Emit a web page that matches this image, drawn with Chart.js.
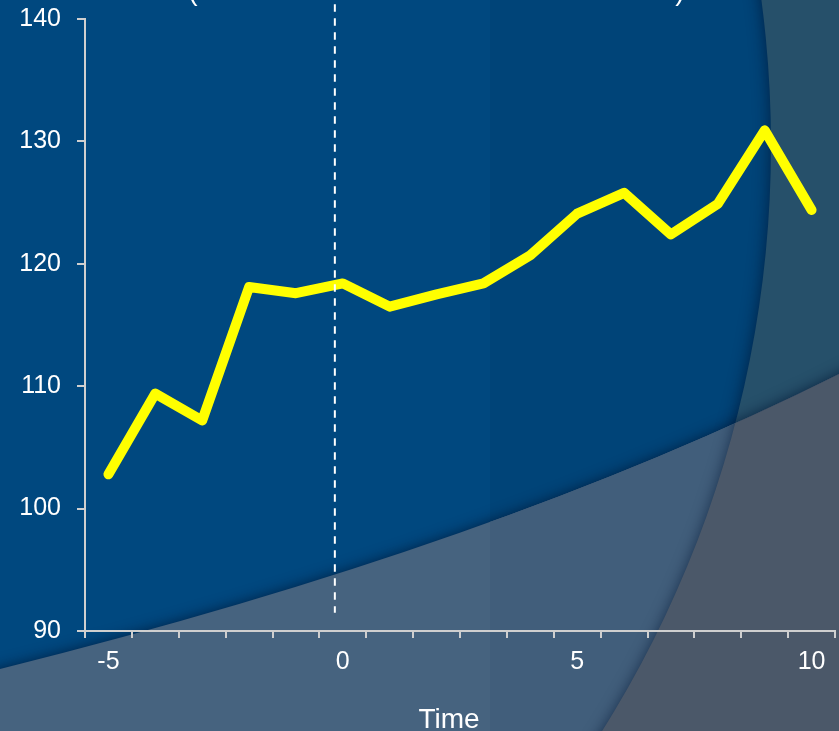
<!DOCTYPE html>
<html>
<head>
<meta charset="utf-8">
<script src="https://cdn.jsdelivr.net/npm/chart.js@4/dist/chart.umd.min.js"></script>
<style>
  html, body { margin: 0; padding: 0; background: #00487F; }
  canvas { display: block; }
</style>
</head>
<body>
<canvas id="chart" width="839" height="731"></canvas>
<script>
// Time points (categories) and the measured series
const timePoints = [-5, -4, -3, -2, -1, 0, 1, 2, 3, 4, 5, 6, 7, 8, 9, 10];
const seriesValues = [102.8, 109.4, 107.2, 118.1, 117.6, 118.4, 116.5, 117.5, 118.4, 120.7, 124.1, 125.8, 122.4, 124.9, 130.9, 124.4];
const labelledTimes = [-5, 0, 5, 10];
const yRange = [90, 140];
const yStep = 10;
const xAxisTitle = 'Time';
// Vertical reference line: time position and vertical extent (value units)
const referenceTime = -0.17;
const referenceSpan = [91.5, 141.2];

const FONT = "'Liberation Sans', Arial, sans-serif";
const AXIS_COLOR = '#CFCFCF';

// Decorative slide background: blue field, a large arc on the right and a swept band below
const backgroundPlugin = {
  id: 'slideBackground',
  beforeDraw(chart) {
    const ctx = chart.ctx;
    const W = chart.width, H = chart.height;
    const arc = { cx: -330, cy: 145, r: 1101 };
    const bandPath = () => {
      ctx.beginPath();
      ctx.moveTo(-20, 674);
      ctx.quadraticCurveTo(505, 545, W + 20, 364);
      ctx.lineTo(W + 20, H + 40);
      ctx.lineTo(-20, H + 40);
      ctx.closePath();
    };
    const outsideArcPath = () => {
      ctx.beginPath();
      ctx.rect(-40, -40, W + 80, H + 80);
      ctx.moveTo(arc.cx + arc.r, arc.cy);
      ctx.arc(arc.cx, arc.cy, arc.r, 0, Math.PI * 2, true);
      ctx.closePath();
    };
    ctx.save();
    // base blue with a faint vertical step
    ctx.fillStyle = '#00487F';
    ctx.fillRect(0, 0, W, H);
    ctx.fillStyle = '#004478';
    ctx.fillRect(490, 0, W - 490, H);

    // region right of the arc
    ctx.save();
    ctx.shadowColor = 'rgba(0, 20, 50, 0.75)';
    ctx.shadowBlur = 16;
    ctx.fillStyle = '#26506A';
    outsideArcPath();
    ctx.fill('evenodd');
    ctx.restore();

    // lower swept band
    ctx.save();
    ctx.shadowColor = 'rgba(0, 20, 50, 0.75)';
    ctx.shadowBlur = 14;
    ctx.fillStyle = '#46637F';
    bandPath();
    ctx.fill();
    ctx.restore();

    ctx.save();
    bandPath();
    ctx.clip();
    ctx.fillStyle = '#415E7B';
    ctx.fillRect(490, 0, W - 490, H);
    ctx.shadowColor = 'rgba(0, 20, 50, 0.6)';
    ctx.shadowBlur = 14;
    ctx.fillStyle = '#4B5869';
    outsideArcPath();
    ctx.fill('evenodd');
    ctx.restore();

    // title line running off the top edge
    ctx.fillStyle = '#FFFFFF';
    ctx.font = '28px ' + FONT;
    ctx.textAlign = 'center';
    ctx.textBaseline = 'alphabetic';
    ctx.fillText('(', 193, 0);
    ctx.fillText(')', 680, 0);
    ctx.restore();
  }
};

// Dashed vertical marker drawn over the series, plus the x-axis caption
const referenceLinePlugin = {
  id: 'referenceLine',
  afterDatasetsDraw(chart) {
    const { ctx, scales: { x, y } } = chart;
    const px = x.getPixelForValue(referenceTime - timePoints[0]);
    ctx.save();
    ctx.strokeStyle = '#FFFFFF';
    ctx.lineWidth = 2;
    ctx.setLineDash([7.5, 6.5]);
    ctx.beginPath();
    ctx.moveTo(px, y.getPixelForValue(referenceSpan[1]));
    ctx.lineTo(px, y.getPixelForValue(referenceSpan[0]));
    ctx.stroke();
    ctx.restore();
  },
  afterDraw(chart) {
    const { ctx, scales: { x } } = chart;
    ctx.save();
    ctx.fillStyle = '#FFFFFF';
    ctx.font = '28px ' + FONT;
    ctx.textAlign = 'center';
    ctx.textBaseline = 'alphabetic';
    ctx.fillText(xAxisTitle, (x.left + x.right) / 2 - 11, x.bottom - 3);
    ctx.restore();
  }
};

new Chart(document.getElementById('chart'), {
  type: 'line',
  data: {
    labels: timePoints.map(String),
    datasets: [{
      data: seriesValues,
      borderColor: '#FFFF00',
      borderWidth: 10,
      borderCapStyle: 'round',
      borderJoinStyle: 'round',
      pointRadius: 0,
      tension: 0,
      fill: false
    }]
  },
  options: {
    responsive: false,
    devicePixelRatio: 1,
    animation: false,
    layout: { padding: { top: 19, right: 4, left: 0, bottom: 0 } },
    plugins: { legend: { display: false }, tooltip: { enabled: false } },
    scales: {
      x: {
        type: 'category',
        offset: true,
        grid: { offset: true, drawOnChartArea: false, drawTicks: true, tickLength: 7, color: AXIS_COLOR, lineWidth: 2 },
        border: { display: true, color: AXIS_COLOR, width: 2 },
        ticks: {
          autoSkip: false,
          maxRotation: 0,
          color: '#FFFFFF',
          padding: 9,
          font: { family: FONT, size: 25 },
          callback(value, index) {
            const t = timePoints[index];
            return labelledTimes.includes(t) ? String(t) : '';
          }
        },
        afterFit(scale) {
          scale.height = 100;
          scale.paddingLeft = 0;
          scale.paddingRight = 0;
        }
      },
      y: {
        min: yRange[0],
        max: yRange[1],
        grid: { drawOnChartArea: false, drawTicks: true, tickLength: 8, color: AXIS_COLOR, lineWidth: 2 },
        border: { display: true, color: AXIS_COLOR, width: 2 },
        ticks: {
          stepSize: yStep,
          color: '#FFFFFF',
          padding: 16,
          font: { family: FONT, size: 25 }
        },
        afterFit(scale) {
          scale.width = 85;
          scale.paddingTop = 0;
          scale.paddingBottom = 0;
        }
      }
    }
  },
  plugins: [backgroundPlugin, referenceLinePlugin]
});
</script>
</body>
</html>
